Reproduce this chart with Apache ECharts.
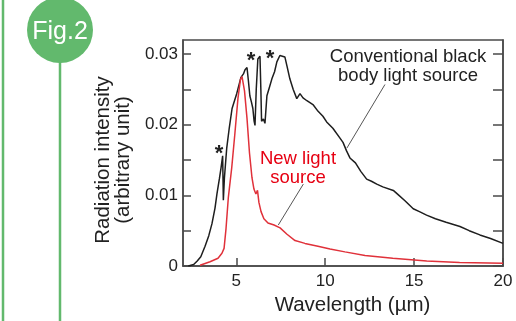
<!DOCTYPE html>
<html>
<head>
<meta charset="utf-8">
<script src="https://cdn.jsdelivr.net/npm/echarts@6/dist/echarts.min.js"></script>
<style>
  html, body { margin: 0; padding: 0; background: #fff; }
  #chart { width: 516px; height: 321px; }
</style>
</head>
<body>
<div id="chart"></div>
<script>
// wavelength (um) / intensity pairs
const blackBody = [
  [2.3, 0], [2.6, 0.0002], [2.8, 0.0007], [3.0, 0.0013], [3.24, 0.0028], [3.45, 0.0043],
  [3.63, 0.006], [3.8, 0.0082], [3.91, 0.0102], [4.05, 0.0124], [4.14, 0.0139], [4.23, 0.0156],
  [4.27, 0.0093], [4.33, 0.0125], [4.46, 0.0167], [4.6, 0.0195], [4.76, 0.0223], [5.02, 0.0244],
  [5.26, 0.0267], [5.4, 0.0272], [5.49, 0.0278], [5.6, 0.0281], [5.68, 0.0262], [5.76, 0.0241],
  [5.85, 0.0232], [5.93, 0.0223], [6.0, 0.0205], [6.05, 0.0199], [6.12, 0.025], [6.21, 0.0293],
  [6.33, 0.0297], [6.38, 0.025], [6.42, 0.0205], [6.52, 0.0208], [6.61, 0.0202], [6.72, 0.0241],
  [6.85, 0.0252], [7.0, 0.0265], [7.15, 0.0275], [7.28, 0.0289], [7.45, 0.0298], [7.56, 0.03],
  [7.73, 0.0296], [7.85, 0.0283], [8.01, 0.0265], [8.2, 0.025], [8.4, 0.0237], [8.58, 0.0244],
  [8.75, 0.0238], [8.97, 0.0234], [9.33, 0.0228], [9.6, 0.0219], [9.87, 0.0212], [10.08, 0.0204],
  [10.43, 0.0195], [10.83, 0.0181], [11.0, 0.0175], [11.2, 0.0163], [11.39, 0.0153], [11.7, 0.0146],
  [12.0, 0.0134], [12.33, 0.0123], [12.6, 0.012], [12.9, 0.0116], [13.24, 0.0112], [13.83, 0.0107],
  [14.1, 0.0101], [14.5, 0.0092], [14.95, 0.0081], [15.3, 0.0077], [15.7, 0.0072], [16.2, 0.0067],
  [16.8, 0.0062], [17.58, 0.0056], [18.1, 0.005], [18.7, 0.0044], [19.3, 0.0039], [20, 0.0032]
];
const newSource = [
  [2.96, 0.0001], [3.52, 0.0006], [3.97, 0.0011], [4.19, 0.0018], [4.31, 0.0025], [4.42, 0.0053],
  [4.55, 0.0097], [4.74, 0.0139], [4.92, 0.0188], [5.09, 0.0237], [5.23, 0.0264], [5.32, 0.0268],
  [5.46, 0.0248], [5.6, 0.0209], [5.74, 0.016], [5.88, 0.0125], [5.99, 0.0109], [6.1, 0.0102],
  [6.19, 0.0107], [6.27, 0.009], [6.39, 0.0077], [6.55, 0.0067], [6.78, 0.0061], [7.12, 0.0058],
  [7.46, 0.0054], [7.85, 0.0045], [8.3, 0.0036], [8.86, 0.0032], [9.59, 0.0028], [10.27, 0.0024],
  [11.11, 0.002], [12.24, 0.0015], [13.8, 0.0011], [15.71, 0.0007], [17.56, 0.0005], [20, 0.0004]
];
const xTicks = [5, 10, 15, 20];
const yTicks = [0, 0.005, 0.01, 0.015, 0.02, 0.025, 0.03];
const yLabels = [0, 0.01, 0.02, 0.03];
const stars = [[4.02, 0.0167], [5.82, 0.0299], [6.89, 0.0302]];

const FONT = "'Liberation Sans', Arial, sans-serif";
const GREEN = '#62b96d';
const INK = '#222';
const FRAME = '#4a4a4a';

const chart = echarts.init(document.getElementById('chart'), null, { renderer: 'canvas' });

chart.setOption({
  animation: false,
  textStyle: { fontFamily: FONT },
  grid: {
    left: 183, right: 13, top: 40, bottom: 51,
    show: true, borderColor: FRAME, borderWidth: 1.5, backgroundColor: 'transparent'
  },
  xAxis: {
    type: 'value', min: 2, max: 20,
    axisLine: { show: true, lineStyle: { color: FRAME, width: 1.5 } },
    axisTick: { show: true, inside: true, length: 8, customValues: xTicks, lineStyle: { color: FRAME, width: 1.5 } },
    axisLabel: { customValues: xTicks, fontSize: 17, color: INK, margin: 7, fontFamily: FONT },
    splitLine: { show: false },
    name: 'Wavelength (µm)',
    nameLocation: 'middle',
    nameGap: 29,
    nameTextStyle: { fontSize: 20.5, color: INK, fontFamily: FONT, padding: [0, 0, 0, 19] }
  },
  yAxis: [{
    type: 'value', min: 0, max: 0.032, position: 'left',
    axisLine: { show: true, lineStyle: { color: FRAME, width: 1.5 } },
    axisTick: { show: true, inside: true, length: 8, customValues: yTicks, lineStyle: { color: FRAME, width: 1.5 } },
    axisLabel: {
      customValues: yLabels, fontSize: 17, color: INK, margin: 5, fontFamily: FONT,
      formatter: v => (v === 0 ? '0' : v.toFixed(2))
    },
    splitLine: { show: false },
    name: 'Radiation intensity\n(arbitrary unit)',
    nameLocation: 'middle',
    nameRotate: 90,
    nameGap: 40,
    nameTextStyle: { fontSize: 20.5, lineHeight: 20, color: INK, fontFamily: FONT, padding: [0, 14, 0, 0] }
  }, {
    type: 'value', min: 0, max: 0.032, position: 'right',
    axisLine: { show: true, lineStyle: { color: FRAME, width: 1.5 } },
    axisTick: { show: true, inside: true, length: 10, customValues: yTicks, lineStyle: { color: FRAME, width: 1.5 } },
    axisLabel: { show: false },
    splitLine: { show: false }
  }],
  series: [{
    name: 'Conventional black body light source',
    type: 'line',
    data: blackBody,
    showSymbol: false,
    lineStyle: { color: '#1e1e1e', width: 1.5 },
    z: 3,
    markLine: {
      silent: true, symbol: ['none', 'none'],
      label: { show: false },
      lineStyle: { color: '#555', width: 1, type: 'solid' },
      data: [[{ coord: [13.36, 0.0257] }, { coord: [11.22, 0.0167] }]]
    },
    markPoint: {
      silent: true, symbol: 'circle', symbolSize: 1,
      itemStyle: { color: 'rgba(0,0,0,0)' },
      label: { show: true, formatter: '*', fontSize: 22, fontWeight: 'bold', color: INK, offset: [0, 6], fontFamily: FONT },
      data: stars.map(s => ({ coord: s }))
    }
  }, {
    name: 'New light source',
    type: 'line',
    data: newSource,
    showSymbol: false,
    lineStyle: { color: '#e0313a', width: 1.5 },
    z: 4,
    markLine: {
      silent: true, symbol: ['none', 'none'],
      label: { show: false },
      lineStyle: { color: '#555', width: 1, type: 'solid' },
      data: [[{ coord: [8.77, 0.0116] }, { coord: [7.36, 0.0058] }]]
    }
  }],
  graphic: [
    { type: 'line', shape: { x1: 3, y1: 0, x2: 3, y2: 321 }, style: { stroke: GREEN, lineWidth: 2.5 } },
    { type: 'line', shape: { x1: 60, y1: 55, x2: 60, y2: 321 }, style: { stroke: GREEN, lineWidth: 2.5 } },
    { type: 'circle', shape: { cx: 60, cy: 30, r: 33 }, style: { fill: GREEN } },
    { type: 'text', x: 60, y: 32, style: { text: 'Fig.2', fill: '#fff', font: '25px ' + FONT, align: 'center', verticalAlign: 'middle' } },
    { type: 'text', x: 408, y: 66, style: { text: 'Conventional black\nbody light source', fill: INK, font: '18.5px ' + FONT, lineHeight: 19, align: 'center', verticalAlign: 'middle' } },
    { type: 'text', x: 298, y: 168, style: { text: 'New light\nsource', fill: '#e60012', font: '18.5px ' + FONT, lineHeight: 19, align: 'center', verticalAlign: 'middle' } }
  ]
});
</script>
</body>
</html>
